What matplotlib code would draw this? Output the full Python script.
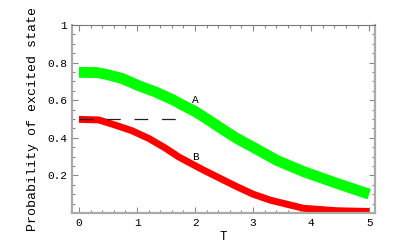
import matplotlib
matplotlib.use("Agg")
import matplotlib.pyplot as plt
from matplotlib.ticker import MultipleLocator

# curve A (green)
t_a = [0, 0.3, 0.45, 0.74, 1.03, 1.31, 1.6, 1.78, 2.0, 2.14, 2.5, 2.72, 3.0, 3.41, 3.87, 4.44, 5.0]
p_a = [0.748, 0.747, 0.739, 0.716, 0.677, 0.645, 0.605, 0.575, 0.54, 0.513, 0.44, 0.397, 0.35, 0.28, 0.22, 0.158, 0.10]

# curve B (red)
t_b = [0, 0.34, 0.62, 0.91, 1.2, 1.49, 1.72, 2.14, 2.72, 3.0, 3.3, 3.87, 4.44, 5.0]
p_b = [0.498, 0.495, 0.468, 0.438, 0.397, 0.345, 0.298, 0.229, 0.14, 0.10, 0.068, 0.025, 0.012, 0.008]

# dashed reference line
dash_t = [0, 1.83]
dash_p = [0.5, 0.5]

mono = "Liberation Mono"

fig = plt.figure(figsize=(4, 2.47), dpi=100)
ax = fig.add_axes([0.18, 0.1377, 0.7575, 0.7611])

ax.plot(t_a, p_a, color="#00ff00", lw=7.8, solid_capstyle="butt")
ax.plot(t_b, p_b, color="#ff0000", lw=5, solid_capstyle="butt")
ax.plot(dash_t, dash_p, color="#222222", lw=0.9, dashes=(11, 11))

ax.text(2.0, 0.575, "A", fontfamily=mono, fontsize=8, ha="center", va="bottom")
ax.text(2.0, 0.30, "B", fontfamily=mono, fontsize=8, ha="center", va="center")

ax.set_xlim(-0.12, 5.1)
ax.set_ylim(0, 1)
ax.xaxis.set_major_locator(MultipleLocator(1))
ax.xaxis.set_minor_locator(MultipleLocator(0.2))
ax.set_yticks([0.2, 0.4, 0.6, 0.8, 1.0])
ax.set_yticklabels(["0.2", "0.4", "0.6", "0.8", "1"])
ax.yaxis.set_minor_locator(MultipleLocator(0.05))

ax.tick_params(which="both", direction="in", top=True, right=True,
               color="#888888", labelsize=8, width=0.8)
ax.tick_params(which="major", length=4)
ax.tick_params(which="minor", length=2)
for lab in ax.get_xticklabels() + ax.get_yticklabels():
    lab.set_fontfamily(mono)

for side in ["left", "bottom", "right"]:
    ax.spines[side].set_color("#aaaaaa")
    ax.spines[side].set_linewidth(1.6)
ax.spines["top"].set_color("#777777")
ax.spines["top"].set_linewidth(0.8)

ax.set_xlabel("T", fontfamily=mono, fontsize=9, labelpad=2)
ax.set_ylabel("Probability of excited state", fontfamily=mono, fontsize=9.5, labelpad=6)

fig.savefig("out.png", dpi=100)
